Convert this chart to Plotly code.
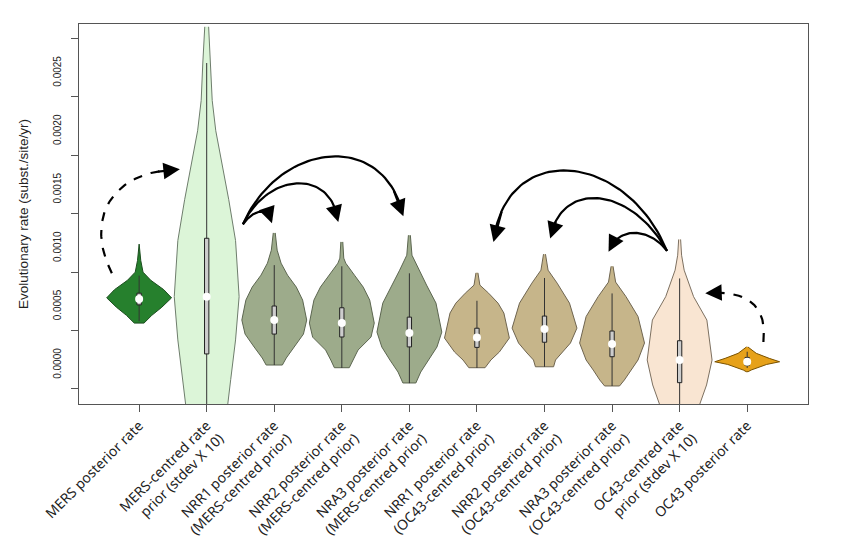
import numpy as np
import plotly.graph_objects as go

# ---------------- data ----------------
categories = [
    "MERS posterior rate",
    "MERS-centred rate<br>prior (stdev X 10)",
    "NRR1 posterior rate<br>(MERS-centred prior)",
    "NRR2 posterior rate<br>(MERS-centred prior)",
    "NRA3 posterior rate<br>(MERS-centred prior)",
    "NRR1 posterior rate<br>(OC43-centred prior)",
    "NRR2 posterior rate<br>(OC43-centred prior)",
    "NRA3 posterior rate<br>(OC43-centred prior)",
    "OC43-centred rate<br>prior (stdev X 10)",
    "OC43 posterior rate",
]

# density profiles: rate levels and relative density (0..1)
profile_rates = [
    [0.00124, 0.00110, 0.00100, 0.00093, 0.00085, 0.00078, 0.00070, 0.00063, 0.000564],
    [0.00310, 0.00298, 0.00279, 0.00247, 0.00221, 0.00190, 0.00162, 0.00127, 0.00079,
     0.00042, 0.00008, -0.00013, -0.00044, -0.00078],
    [0.001336, 0.001188, 0.001077, 0.000974, 0.000872, 0.000761, 0.000590, 0.00047,
     0.000359, 0.000265, 0.000205],
    [0.001259, 0.00112, 0.001077, 0.000974, 0.000872, 0.000761, 0.000564, 0.000444,
     0.000333, 0.000248, 0.000182],
    [0.001316, 0.001145, 0.001017, 0.000889, 0.000735, 0.000487, 0.000359, 0.000248,
     0.000145, 0.0000513],
    [0.000994, 0.000889, 0.00082, 0.000735, 0.00065, 0.000436, 0.000316, 0.000248, 0.000182],
    [0.001154, 0.001017, 0.000906, 0.000735, 0.000521, 0.000393, 0.000308, 0.000248, 0.00019],
    [0.00105, 0.000915, 0.00079, 0.00062, 0.000393, 0.000248, 0.000162, 0.0000769, 0.0000256],
    [0.00128, 0.001145, 0.001017, 0.00079, 0.00059, 0.000419, 0.000248, 0.0000342,
     -0.000128, -0.00035, -0.00056],
    [0.00036, 0.000305, 0.000262, 0.000233, 0.00021, 0.00019, 0.000162, 0.000148],
]
profile_density = [
    [0.0, 0.05, 0.12, 0.36, 0.76, 1.0, 0.70, 0.39, 0.15],
    [0.06, 0.09, 0.12, 0.17, 0.28, 0.49, 0.68, 0.89, 1.0, 0.89, 0.74, 0.65, 0.43, 0.18],
    [0.03, 0.09, 0.21, 0.41, 0.68, 0.875, 1.0, 0.9, 0.62, 0.37, 0.25],
    [0.03, 0.06, 0.12, 0.39, 0.66, 0.86, 1.0, 0.9, 0.5, 0.34, 0.23],
    [0.03, 0.08, 0.3, 0.53, 0.82, 1.0, 0.85, 0.6, 0.35, 0.2],
    [0.03, 0.09, 0.36, 0.65, 0.83, 1.0, 0.69, 0.43, 0.25],
    [0.03, 0.11, 0.39, 0.77, 1.0, 0.8, 0.54, 0.34, 0.28],
    [0.03, 0.11, 0.43, 0.8, 1.0, 0.8, 0.58, 0.38, 0.23],
    [0.03, 0.06, 0.14, 0.43, 0.84, 0.92, 1.0, 0.83, 0.61, 0.34, 0.09],
    [0.02, 0.28, 0.68, 1.0, 0.6, 0.38, 0.12, 0.03],
]

medians = [0.00077, 0.00079, 0.00059, 0.000564, 0.00048, 0.00044, 0.000513, 0.000385, 0.000248, 0.000233]
q1 = [0.00072, 0.00030, 0.00047, 0.000445, 0.00036, 0.000356, 0.00040, 0.000276, 0.000054, 0.00020]
q3 = [0.00082, 0.00129, 0.00071, 0.000695, 0.000615, 0.00052, 0.000624, 0.000496, 0.000413, 0.00027]
whisker_low = [0.00058, -0.0008, 0.000205, 0.00018, 0.00005, 0.00018, 0.00019, 0.0000256, -0.0006, 0.00018]
whisker_high = [0.00097, 0.00279, 0.00106, 0.00105, 0.00099, 0.000755, 0.00095, 0.000818, 0.000946, 0.000319]

fill_colors = ["#26802d", "#dcf5d8", "#9dab8b", "#9dab8b", "#9dab8b",
               "#c6b58a", "#c6b58a", "#c6b58a", "#f9e5d2", "#e6a11a"]
line_colors = ["#1b4d1e", "#6e7d6c", "#5c6650", "#5c6650", "#5c6650",
               "#6f6550", "#6f6550", "#6f6550", "#7d7060", "#7a5200"]

y_tick_values = [0.0, 0.0005, 0.0010, 0.0015, 0.0020, 0.0025, 0.0030]
y_tick_labels = ["0.0000", "0.0005", "0.0010", "0.0015", "0.0020", "0.0025", "0.0030"]

# curved arrows (cubic Bezier control points, in axis units) and dash style
arrows = [
    ([(0.596, 0.000991), (0.196, 0.001444), (0.566, 0.001872), (1.603, 0.00188)], "dash"),
    ([(10.24, 0.000402), (10.31, 0.00076), (9.897, 0.000846), (9.379, 0.00082)], "dash"),
    ([(2.536, 0.00141), (2.67, 0.001521), (2.907, 0.001581), (2.966, 0.001419)], "solid"),
    ([(2.536, 0.00141), (2.906, 0.001859), (3.854, 0.001889), (3.948, 0.00143)], "solid"),
    ([(2.536, 0.00141), (3.084, 0.002128), (4.639, 0.002214), (4.911, 0.001479)], "solid"),
    ([(8.813, 0.001182), (8.565, 0.001376), (8.091, 0.001402), (7.948, 0.001174)], "solid"),
    ([(8.813, 0.001182), (8.27, 0.001744), (7.233, 0.001786), (7.084, 0.001288)], "solid"),
    ([(8.813, 0.001182), (8.196, 0.002043), (6.419, 0.002128), (6.244, 0.001259)], "solid"),
]

# ---------------- figure ----------------
HALF = 0.48
BOXW = 0.032
fig = go.Figure()

for i in range(len(categories)):
    xc = i + 1
    r = np.array(profile_rates[i])
    d = np.array(profile_density[i]) * HALF
    xs = np.concatenate([xc - d, (xc + d)[::-1]])
    ys = np.concatenate([r, r[::-1]])
    fig.add_trace(go.Scatter(x=xs, y=ys, mode="lines", fill="toself",
                             fillcolor=fill_colors[i],
                             line=dict(color=line_colors[i], width=1),
                             hoverinfo="skip", showlegend=False))
    fig.add_trace(go.Scatter(x=[xc, xc], y=[whisker_low[i], whisker_high[i]], mode="lines",
                             line=dict(color="#333333", width=1),
                             hoverinfo="skip", showlegend=False))
    fig.add_trace(go.Scatter(x=[xc - BOXW, xc + BOXW, xc + BOXW, xc - BOXW, xc - BOXW],
                             y=[q1[i], q1[i], q3[i], q3[i], q1[i]],
                             mode="lines", fill="toself", fillcolor="#cdcdcd",
                             line=dict(color="#222222", width=1),
                             hoverinfo="skip", showlegend=False))
    fig.add_trace(go.Scatter(x=[xc], y=[medians[i]], mode="markers",
                             marker=dict(color="white", size=8),
                             name=categories[i].replace("<br>", " "), showlegend=False))


def bezier(p, t):
    p = np.array(p)
    return (((1 - t) ** 3)[:, None] * p[0] + (3 * (1 - t) ** 2 * t)[:, None] * p[1]
            + (3 * (1 - t) * t ** 2)[:, None] * p[2] + (t ** 3)[:, None] * p[3])


for pts, dash in arrows:
    t = np.linspace(0, 1, 60)
    c = bezier(pts, t)
    fig.add_trace(go.Scatter(x=c[:-3, 0], y=c[:-3, 1], mode="lines",
                             line=dict(color="black", width=2.2, dash=dash),
                             hoverinfo="skip", showlegend=False))
    tail = bezier(pts, np.array([0.88]))[0]
    fig.add_annotation(x=pts[3][0], y=pts[3][1], ax=tail[0], ay=tail[1],
                       xref="x", yref="y", axref="x", ayref="y", text="",
                       showarrow=True, arrowhead=2, arrowsize=1.5, arrowwidth=2.2,
                       arrowcolor="black", standoff=0)

fig.update_layout(
    width=850, height=542,
    margin=dict(l=79, r=42, t=24, b=138, autoexpand=False),
    paper_bgcolor="white", plot_bgcolor="white",
    font=dict(family="Liberation Sans, Arial, sans-serif", color="#222222"),
)
fig.update_xaxes(
    range=[0.11, 10.9], tickmode="array", tickvals=list(range(1, len(categories) + 1)),
    ticktext=categories, tickangle=-45, ticks="outside", ticklen=7, tickcolor="#555555",
    tickfont=dict(family="Noto Sans, sans-serif", size=14, color="#222222"),
    showline=True, linecolor="#555555", linewidth=1, mirror=True,
    showgrid=False, zeroline=False, automargin=False,
)
fig.update_yaxes(
    range=[-0.0001286, 0.003124], tickmode="array", tickvals=y_tick_values,
    ticktext=y_tick_labels, tickangle=-90, ticks="outside", ticklen=7, tickcolor="#555555",
    tickfont=dict(size=10, color="#222222"), ticklabelshift=-24, ticklabelstandoff=6,
    title=dict(text="Evolutionary rate (subst./site/yr)", font=dict(size=13.5), standoff=20),
    showline=True, linecolor="#555555", linewidth=1, mirror=True,
    showgrid=False, zeroline=False, automargin=False,
)

fig.write_html("out.html")
